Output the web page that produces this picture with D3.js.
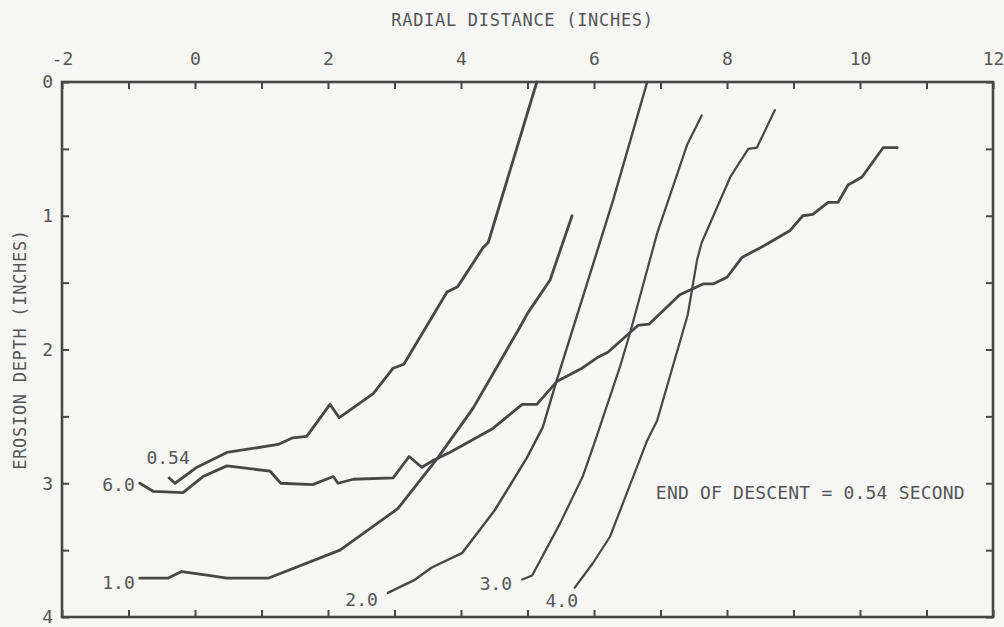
<!DOCTYPE html>
<html>
<head>
<meta charset="utf-8">
<script src="https://cdn.jsdelivr.net/npm/d3@7"></script>
<style>
  html, body { margin: 0; padding: 0; background: #f6f6f5; }
  svg { display: block; }
  text { font-family: "DejaVu Sans Mono", monospace; fill: #555; }
</style>
</head>
<body>
<svg id="chart" width="1004" height="627"></svg>
<script>
// Axis ticks and labels
const radialTicks = d3.range(-2, 13, 1);
const radialLabels = [-2, 0, 2, 4, 6, 8, 10, 12];
const depthTicks = d3.range(0, 4.01, 0.5);
const depthLabels = [0, 1, 2, 3, 4];

// Erosion profiles: [radial distance (in), erosion depth (in)]
const profile054 = [[-0.39,2.96],[-0.30,3.00],[0.03,2.88],[0.48,2.77],[1.25,2.71],[1.47,2.66],[1.68,2.65],
  [2.03,2.41],[2.17,2.51],[2.68,2.33],[2.98,2.14],[3.14,2.11],[3.79,1.57],[3.95,1.53],[4.33,1.24],[4.41,1.20],[5.14,0.0]];
const profile60 = [[-0.83,3.00],[-0.63,3.06],[-0.18,3.07],[0.12,2.95],[0.48,2.87],[1.13,2.91],[1.29,3.00],
  [1.77,3.01],[2.08,2.95],[2.15,3.00],[2.38,2.97],[2.98,2.96],[3.22,2.80],[3.41,2.88],[3.58,2.83],[3.83,2.77],
  [4.48,2.59],[4.92,2.41],[5.14,2.41],[5.44,2.24],[5.82,2.14],[6.05,2.06],[6.21,2.02],[6.66,1.82],[6.83,1.81],
  [7.29,1.59],[7.64,1.51],[7.79,1.51],[8.00,1.46],[8.23,1.31],[8.50,1.24],[8.95,1.11],[9.14,1.00],[9.29,0.99],
  [9.52,0.90],[9.67,0.90],[9.82,0.77],[10.03,0.71],[10.35,0.49],[10.56,0.49]];
const profile10 = [[-0.83,3.71],[-0.41,3.71],[-0.20,3.66],[0.23,3.69],[0.48,3.71],[1.10,3.71],[2.18,3.50],
  [3.05,3.19],[3.65,2.81],[4.18,2.44],[4.89,1.83],[5.00,1.73],[5.34,1.48],[5.67,1.00]];
const profile20 = [[2.90,3.82],[3.31,3.72],[3.56,3.63],[4.02,3.52],[4.51,3.20],[4.99,2.81],[5.23,2.58],
  [5.44,2.23],[6.29,0.88],[6.80,0.0]];
const profile30 = [[4.92,3.72],[5.07,3.69],[5.49,3.30],[5.83,2.95],[6.02,2.68],[6.39,2.13],[6.54,1.88],
  [6.95,1.13],[7.40,0.47],[7.62,0.25]];
const profile40 = [[5.71,3.78],[5.98,3.60],[6.24,3.40],[6.59,2.95],[6.80,2.68],[6.95,2.53],[7.41,1.74],
  [7.55,1.33],[7.62,1.20],[8.05,0.71],[8.32,0.50],[8.45,0.49],[8.72,0.21]];

const timeLabels = ["0.54", "6.0", "1.0", "2.0", "3.0", "4.0"];
const profiles = [profile054, profile60, profile10, profile20, profile30, profile40];

// Drawing style per profile: stroke width and label offset from the first point
const styles = [
  { w: 2.8, dx: -1,  dy: -20, anchor: "middle" },
  { w: 2.8, dx: -5,  dy: 1,   anchor: "end" },
  { w: 2.8, dx: -5,  dy: 4,   anchor: "end" },
  { w: 2.4, dx: -10, dy: 7,   anchor: "end" },
  { w: 2.2, dx: -10, dy: 4,   anchor: "end" },
  { w: 2.2, dx: -13, dy: 13,  anchor: "middle" }
];

const svg = d3.select("#chart");
const x = d3.scaleLinear().domain([-2, 12]).range([62, 993]);
const y = d3.scaleLinear().domain([0, 4]).range([82, 617]);
const ink = "#474747";

// Axes with inward ticks on all four sides
function styleAxis(g) {
  g.select(".domain").remove();
  g.selectAll(".tick line").attr("stroke", ink).attr("stroke-width", 2);
  g.selectAll(".tick text").attr("font-size", 18).attr("font-family", "DejaVu Sans Mono").attr("fill", "#555");
}
const fmtX = d => radialLabels.includes(d) ? String(d) : "";
const fmtY = d => depthLabels.includes(d) ? String(d) : "";

svg.append("g").attr("transform", `translate(0,${y(0)})`)
  .call(d3.axisTop(x).tickValues(radialTicks).tickSizeInner(-7).tickSizeOuter(0).tickPadding(17).tickFormat(fmtX))
  .call(styleAxis);
svg.append("g").attr("transform", `translate(0,${y(4)})`)
  .call(d3.axisBottom(x).tickValues(radialTicks).tickSizeInner(-7).tickSizeOuter(0).tickFormat(() => ""))
  .call(styleAxis);
svg.append("g").attr("transform", `translate(${x(-2)},0)`)
  .call(d3.axisLeft(y).tickValues(depthTicks).tickSizeInner(-7).tickSizeOuter(0).tickPadding(9).tickFormat(fmtY))
  .call(styleAxis);
svg.append("g").attr("transform", `translate(${x(12)},0)`)
  .call(d3.axisRight(y).tickValues(depthTicks).tickSizeInner(-7).tickSizeOuter(0).tickFormat(() => ""))
  .call(styleAxis);

// Plot frame
svg.append("rect")
  .attr("x", x(-2)).attr("y", y(0))
  .attr("width", x(12) - x(-2)).attr("height", y(4) - y(0))
  .attr("fill", "none").attr("stroke", ink).attr("stroke-width", 2.6);

// Axis titles
svg.append("text")
  .attr("x", (x(-2) + x(12)) / 2 - 5).attr("y", 26)
  .attr("text-anchor", "middle").attr("font-size", 17).attr("letter-spacing", 0.7)
  .text("RADIAL DISTANCE (INCHES)");
svg.append("text")
  .attr("transform", `translate(25.5,${(y(0) + y(4)) / 2}) rotate(-90)`)
  .attr("text-anchor", "middle").attr("font-size", 17).attr("letter-spacing", 0.7)
  .text("EROSION DEPTH (INCHES)");

// Profiles
const line = d3.line().x(d => x(d[0])).y(d => y(d[1]));
svg.append("g").selectAll("path")
  .data(profiles)
  .join("path")
  .attr("d", line)
  .attr("fill", "none")
  .attr("stroke", ink)
  .attr("stroke-width", (d, i) => styles[i].w)
  .attr("stroke-linejoin", "round")
  .attr("stroke-linecap", "round");

// Time labels beside the start of each profile
svg.append("g").selectAll("text")
  .data(profiles)
  .join("text")
  .attr("x", (d, i) => x(d[0][0]) + styles[i].dx)
  .attr("y", (d, i) => y(d[0][1]) + styles[i].dy)
  .attr("dy", "0.35em")
  .attr("text-anchor", (d, i) => styles[i].anchor)
  .attr("font-size", 18)
  .text((d, i) => timeLabels[i]);

// Annotation
svg.append("text")
  .attr("x", x(6.93)).attr("y", y(3.07))
  .attr("dy", "0.35em")
  .attr("font-size", 18).attr("letter-spacing", 0.2)
  .text("END OF DESCENT = 0.54 SECOND");
</script>
</body>
</html>
